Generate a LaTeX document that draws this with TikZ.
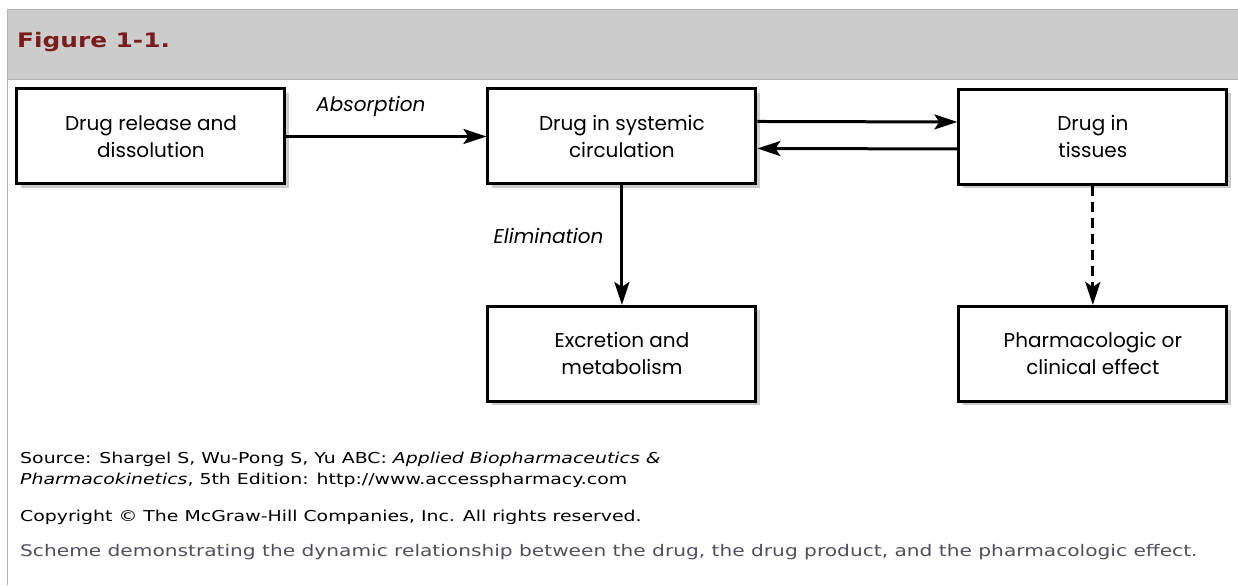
\documentclass[tikz,border=0pt]{standalone}
\usepackage{fontspec}
\setmainfont{DejaVu Sans}
\newfontfamily\boxfont{Poppins}
\usetikzlibrary{arrows.meta,shadows}
\definecolor{headgray}{RGB}{204,204,204}
\definecolor{headline}{RGB}{178,178,178}
\definecolor{figred}{RGB}{120,28,28}
\definecolor{capgray}{RGB}{80,80,94}
\newcommand{\widetext}[1]{\scalebox{1.26}[1]{#1}}

\begin{document}
\begin{tikzpicture}[x=1pt, y=-1pt,
	box/.style={draw=black, line width=3pt, fill=white, minimum width=268pt, minimum height=95pt,
		align=center, font=\boxfont\fontsize{20}{27}\selectfont,
		drop shadow={shadow xshift=4pt, shadow yshift=-4pt, opacity=0.45, fill=black!45}},
	flow/.style={line width=3pt, -{Stealth[length=23pt,width=15pt,inset=5pt]}},
	tag/.style={font=\boxfont\itshape\fontsize{20}{23}\selectfont},
	note/.style={anchor=west, inner sep=0pt, font=\fontsize{15}{18}\selectfont}]
	
	% Page and header band
	\fill[white] (0,0) rectangle (1238,585);
	\fill[headgray] (7.5,9.5) rectangle (1238,79);
	\draw[headline] (1238,9.5) -- (7.5,9.5) -- (7.5,585);
	\draw[headline] (7.5,79) -- (1238,79);
	\node[anchor=west, inner sep=0pt, text=figred, font=\bfseries\fontsize{20}{24}\selectfont] (title) at (17,42) {\scalebox{1.24}[1]{Figure 1-1.}};
	
	% Boxes
	\node[box] (release) at (151,136.5) {Drug release and\\dissolution};
	\node[box] (systemic) at (622,136.5) {Drug in systemic\\circulation};
	\node[box] (tissues) at (1093,137) {Drug in\\tissues};
	\node[box] (excretion) at (622,354) {Excretion and\\metabolism};
	\node[box] (effect) at (1093,354) {Pharmacologic or\\clinical effect};
	
	% Arrows
	\draw[flow] (release.east) -- (systemic.west);
	\draw[flow] ([yshift=15pt]systemic.east) -- ([yshift=15pt]tissues.west);
	\draw[flow] ([yshift=-12pt]tissues.west) -- ([yshift=-12pt]systemic.east);
	\draw[flow] (systemic.south) -- (excretion.north);
	\draw[flow, dash pattern=on 10pt off 6pt] (tissues.south) -- (effect.north);
	
	% Arrow labels
	\node[tag] (absorption) at (371,107) {Absorption};
	\node[tag, anchor=east] (elimination) at (607,236) {Elimination};
	
	% Source lines
	\node[note] (source) at (20,459) {\widetext{Source: Shargel S, Wu-Pong S, Yu ABC: \textit{Applied Biopharmaceutics \&}}};
	\node[note] (source2) at (20,480) {\widetext{\textit{Pharmacokinetics}, 5th Edition: http://www.accesspharmacy.com}};
	\node[note] (copyright) at (20,517) {\widetext{Copyright \textcopyright{} The McGraw-Hill Companies, Inc. All rights reserved.}};
	\node[note, text=capgray, font=\fontsize{16}{19}\selectfont] (scheme) at (20,552) {\widetext{Scheme demonstrating the dynamic relationship between the drug, the drug product, and the pharmacologic effect.}};
	
\end{tikzpicture}
\end{document}
